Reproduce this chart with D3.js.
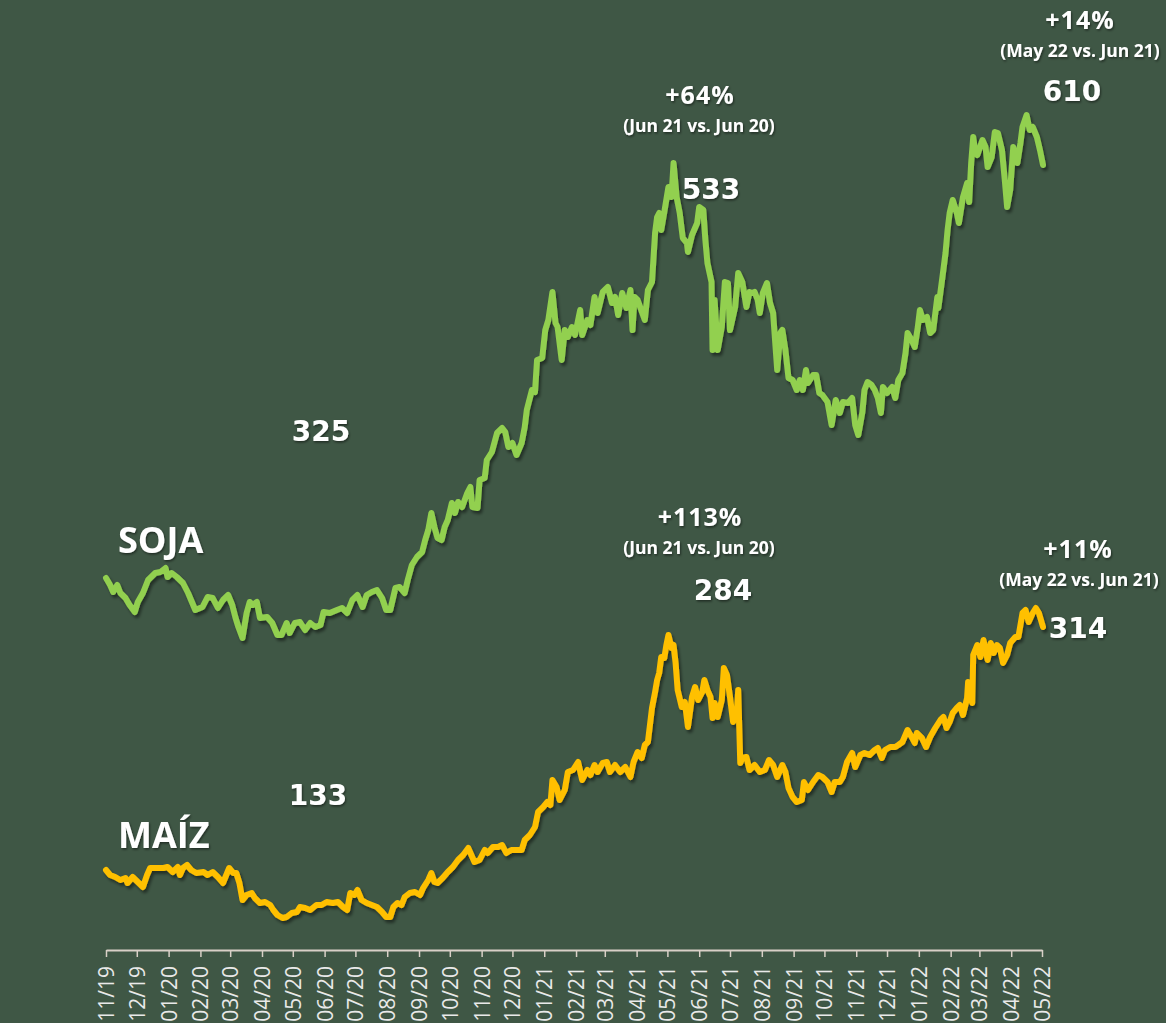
<!DOCTYPE html>
<html>
<head>
<meta charset="utf-8">
<script src="https://cdn.jsdelivr.net/npm/d3@7"></script>
<style>
  html, body { margin: 0; padding: 0; background: #3f5745; overflow: hidden; }
  svg { display: block; }
  .axis path, .axis line { stroke: #d9d0c7; }
  .axis text { fill: #e9e9e9; font-family: 'Open Sans', sans-serif; font-size: 21px; }
  .lbl { fill: #fff; font-weight: bold; text-anchor: middle; }
</style>
</head>
<body>
<div id="chart"></div>
<script>
// daily closes (index units)
const soja = [
  ['2019-11-01', 372], ['2019-11-05', 365], ['2019-11-08', 358], ['2019-11-12', 365], ['2019-11-15', 357],
  ['2019-11-20', 352], ['2019-11-24', 345], ['2019-11-29', 338], ['2019-12-02', 348], ['2019-12-07', 357],
  ['2019-12-12', 370], ['2019-12-19', 377], ['2019-12-24', 378], ['2019-12-29', 382], ['2019-12-31', 373],
  ['2020-01-04', 377], ['2020-01-09', 373], ['2020-01-15', 367], ['2020-01-20', 357], ['2020-01-27', 340],
  ['2020-02-03', 343], ['2020-02-08', 353], ['2020-02-13', 352], ['2020-02-18', 342], ['2020-02-23', 350],
  ['2020-02-28', 355], ['2020-03-03', 345], ['2020-03-06', 333], ['2020-03-09', 323], ['2020-03-13', 312],
  ['2020-03-17', 337], ['2020-03-20', 348], ['2020-03-23', 345], ['2020-03-27', 348], ['2020-03-30', 332],
  ['2020-04-06', 333], ['2020-04-11', 327], ['2020-04-16', 315], ['2020-04-20', 315], ['2020-04-25', 327],
  ['2020-04-28', 317], ['2020-05-03', 327], ['2020-05-08', 328], ['2020-05-13', 320], ['2020-05-18', 327],
  ['2020-05-23', 323], ['2020-05-28', 325], ['2020-05-31', 338], ['2020-06-06', 337], ['2020-06-13', 340],
  ['2020-06-18', 342], ['2020-06-23', 337], ['2020-06-28', 350], ['2020-07-03', 355], ['2020-07-08', 343],
  ['2020-07-12', 355], ['2020-07-17', 358], ['2020-07-22', 360], ['2020-07-27', 352], ['2020-07-31', 340],
  ['2020-08-04', 340], ['2020-08-09', 362], ['2020-08-13', 363], ['2020-08-18', 357], ['2020-08-21', 370],
  ['2020-08-25', 385], ['2020-08-30', 393], ['2020-09-04', 398], ['2020-09-07', 410], ['2020-09-10', 420],
  ['2020-09-13', 437], ['2020-09-16', 423], ['2020-09-19', 412], ['2020-09-23', 410], ['2020-09-26', 423],
  ['2020-09-29', 430], ['2020-10-03', 447], ['2020-10-06', 437], ['2020-10-09', 448], ['2020-10-13', 443],
  ['2020-10-18', 457], ['2020-10-21', 463], ['2020-10-23', 443], ['2020-10-28', 442], ['2020-10-30', 470],
  ['2020-11-04', 472], ['2020-11-06', 490], ['2020-11-11', 498], ['2020-11-16', 517], ['2020-11-21', 522],
  ['2020-11-24', 518], ['2020-11-27', 503], ['2020-12-01', 507], ['2020-12-05', 495], ['2020-12-10', 507],
  ['2020-12-13', 523], ['2020-12-15', 540], ['2020-12-20', 560], ['2020-12-23', 558], ['2020-12-25', 590],
  ['2020-12-30', 592], ['2021-01-02', 620], ['2021-01-05', 630], ['2021-01-09', 658], ['2021-01-12', 627],
  ['2021-01-14', 623], ['2021-01-18', 590], ['2021-01-21', 620], ['2021-01-24', 613], ['2021-01-28', 623],
  ['2021-01-31', 615], ['2021-02-05', 640], ['2021-02-07', 615], ['2021-02-12', 630], ['2021-02-15', 625],
  ['2021-02-19', 653], ['2021-02-22', 637], ['2021-02-27', 658], ['2021-03-04', 663], ['2021-03-08', 647],
  ['2021-03-11', 653], ['2021-03-14', 635], ['2021-03-18', 657], ['2021-03-22', 642], ['2021-03-26', 660],
  ['2021-03-28', 620], ['2021-03-30', 653], ['2021-04-02', 650], ['2021-04-09', 630], ['2021-04-12', 660],
  ['2021-04-16', 668], ['2021-04-19', 717], ['2021-04-21', 733], ['2021-04-23', 737], ['2021-04-25', 720],
  ['2021-04-28', 738], ['2021-05-02', 763], ['2021-05-05', 753], ['2021-05-07', 787], ['2021-05-10', 753],
  ['2021-05-13', 737], ['2021-05-16', 712], ['2021-05-20', 707], ['2021-05-21', 698], ['2021-05-25', 715],
  ['2021-05-30', 727], ['2021-06-01', 743], ['2021-06-05', 740], ['2021-06-07', 710], ['2021-06-09', 687],
  ['2021-06-13', 668], ['2021-06-14', 600], ['2021-06-16', 650], ['2021-06-19', 600], ['2021-06-23', 623],
  ['2021-06-26', 668], ['2021-06-29', 667], ['2021-07-01', 620], ['2021-07-06', 643], ['2021-07-09', 677],
  ['2021-07-13', 668], ['2021-07-17', 643], ['2021-07-20', 658], ['2021-07-23', 657], ['2021-07-25', 658],
  ['2021-07-28', 650], ['2021-07-30', 637], ['2021-08-02', 657], ['2021-08-06', 667], ['2021-08-09', 647],
  ['2021-08-12', 637], ['2021-08-16', 580], ['2021-08-19', 617], ['2021-08-21', 620], ['2021-08-24', 600],
  ['2021-08-27', 572], ['2021-08-31', 570], ['2021-09-04', 560], ['2021-09-07', 570], ['2021-09-10', 560],
  ['2021-09-13', 580], ['2021-09-15', 567], ['2021-09-20', 575], ['2021-09-23', 575], ['2021-09-26', 557],
  ['2021-09-29', 555], ['2021-10-04', 548], ['2021-10-08', 525], ['2021-10-12', 550], ['2021-10-16', 537],
  ['2021-10-19', 548], ['2021-10-24', 547], ['2021-10-28', 552], ['2021-10-31', 525], ['2021-11-03', 515],
  ['2021-11-07', 538], ['2021-11-09', 560], ['2021-11-12', 568], ['2021-11-16', 565], ['2021-11-19', 560],
  ['2021-11-22', 552], ['2021-11-25', 537], ['2021-11-27', 563], ['2021-12-01', 557], ['2021-12-06', 563],
  ['2021-12-09', 552], ['2021-12-12', 570], ['2021-12-16', 577], ['2021-12-19', 597], ['2021-12-21', 617],
  ['2021-12-25', 610], ['2021-12-28', 603], ['2021-12-31', 623], ['2022-01-02', 640], ['2022-01-05', 630],
  ['2022-01-09', 633], ['2022-01-12', 617], ['2022-01-15', 620], ['2022-01-19', 653], ['2022-01-20', 642],
  ['2022-01-24', 673], ['2022-01-27', 697], ['2022-01-29', 720], ['2022-01-31', 737], ['2022-02-03', 750],
  ['2022-02-07', 737], ['2022-02-09', 727], ['2022-02-13', 753], ['2022-02-17', 767], ['2022-02-19', 748],
  ['2022-02-21', 787], ['2022-02-23', 813], ['2022-02-25', 797], ['2022-02-27', 795], ['2022-03-04', 810],
  ['2022-03-07', 803], ['2022-03-09', 783], ['2022-03-13', 793], ['2022-03-16', 818], ['2022-03-19', 817],
  ['2022-03-23', 800], ['2022-03-26', 767], ['2022-03-28', 743], ['2022-03-31', 760], ['2022-04-03', 803],
  ['2022-04-07', 787], ['2022-04-10', 807], ['2022-04-12', 823], ['2022-04-16', 835], ['2022-04-19', 820],
  ['2022-04-22', 823], ['2022-04-26', 813], ['2022-04-29', 800], ['2022-05-02', 785]
];

const maiz = [
  ['2019-11-01', 80], ['2019-11-05', 75], ['2019-11-10', 73], ['2019-11-15', 70], ['2019-11-20', 72],
  ['2019-11-22', 67], ['2019-11-27', 73], ['2019-12-02', 68], ['2019-12-07', 63], ['2019-12-11', 75],
  ['2019-12-14', 82], ['2019-12-21', 82], ['2019-12-27', 82], ['2019-12-31', 83], ['2020-01-05', 78],
  ['2020-01-10', 83], ['2020-01-12', 75], ['2020-01-15', 82], ['2020-01-19', 85], ['2020-01-23', 80],
  ['2020-01-28', 77], ['2020-02-04', 78], ['2020-02-08', 75], ['2020-02-13', 78], ['2020-02-18', 73],
  ['2020-02-23', 67], ['2020-02-27', 77], ['2020-02-29', 82], ['2020-03-04', 77], ['2020-03-07', 77],
  ['2020-03-10', 67], ['2020-03-13', 50], ['2020-03-17', 55], ['2020-03-22', 57], ['2020-03-25', 52],
  ['2020-03-30', 47], ['2020-04-04', 48], ['2020-04-09', 45], ['2020-04-12', 40], ['2020-04-16', 35],
  ['2020-04-21', 32], ['2020-04-25', 33], ['2020-04-30', 37], ['2020-05-05', 38], ['2020-05-08', 43],
  ['2020-05-13', 42], ['2020-05-18', 40], ['2020-05-24', 45], ['2020-05-29', 45], ['2020-06-03', 48],
  ['2020-06-09', 47], ['2020-06-14', 48], ['2020-06-19', 43], ['2020-06-23', 40], ['2020-06-26', 57],
  ['2020-06-30', 55], ['2020-07-03', 60], ['2020-07-07', 50], ['2020-07-12', 47], ['2020-07-17', 45],
  ['2020-07-22', 43], ['2020-07-27', 38], ['2020-07-31', 33], ['2020-08-04', 33], ['2020-08-07', 43],
  ['2020-08-11', 47], ['2020-08-15', 45], ['2020-08-18', 53], ['2020-08-23', 57], ['2020-08-28', 58],
  ['2020-09-02', 55], ['2020-09-05', 62], ['2020-09-10', 70], ['2020-09-13', 77], ['2020-09-16', 68],
  ['2020-09-19', 67], ['2020-09-24', 72], ['2020-09-29', 78], ['2020-10-04', 83], ['2020-10-09', 90],
  ['2020-10-14', 95], ['2020-10-19', 102], ['2020-10-22', 95], ['2020-10-25', 88], ['2020-10-30', 90],
  ['2020-11-04', 100], ['2020-11-07', 97], ['2020-11-12', 103], ['2020-11-17', 103], ['2020-11-21', 105],
  ['2020-11-25', 97], ['2020-11-30', 100], ['2020-12-05', 100], ['2020-12-10', 100], ['2020-12-13', 110],
  ['2020-12-18', 115], ['2020-12-23', 123], ['2020-12-26', 138], ['2020-12-31', 143], ['2021-01-04', 148],
  ['2021-01-07', 145], ['2021-01-09', 170], ['2021-01-13', 163], ['2021-01-16', 150], ['2021-01-21', 160],
  ['2021-01-24', 178], ['2021-01-29', 180], ['2021-02-03', 188], ['2021-02-07', 170], ['2021-02-12', 180],
  ['2021-02-15', 175], ['2021-02-19', 185], ['2021-02-22', 178], ['2021-02-27', 187], ['2021-03-03', 188],
  ['2021-03-06', 178], ['2021-03-11', 185], ['2021-03-16', 178], ['2021-03-21', 183], ['2021-03-26', 173],
  ['2021-03-29', 188], ['2021-04-02', 198], ['2021-04-06', 192], ['2021-04-09', 205], ['2021-04-12', 208],
  ['2021-04-16', 242], ['2021-04-19', 258], ['2021-04-21', 270], ['2021-04-23', 277], ['2021-04-25', 293],
  ['2021-04-28', 292], ['2021-04-30', 305], ['2021-05-02', 315], ['2021-05-05', 302], ['2021-05-07', 305],
  ['2021-05-09', 287], ['2021-05-11', 260], ['2021-05-15', 243], ['2021-05-18', 248], ['2021-05-21', 223],
  ['2021-05-25', 253], ['2021-05-28', 263], ['2021-05-31', 250], ['2021-06-04', 258], ['2021-06-06', 270],
  ['2021-06-09', 260], ['2021-06-12', 253], ['2021-06-14', 232], ['2021-06-16', 247], ['2021-06-19', 233],
  ['2021-06-23', 250], ['2021-06-25', 282], ['2021-06-28', 275], ['2021-07-01', 253], ['2021-07-04', 228],
  ['2021-07-08', 243], ['2021-07-09', 260], ['2021-07-11', 187], ['2021-07-13', 192], ['2021-07-17', 193],
  ['2021-07-20', 180], ['2021-07-25', 185], ['2021-07-30', 178], ['2021-08-04', 180], ['2021-08-08', 190],
  ['2021-08-12', 185], ['2021-08-16', 173], ['2021-08-21', 185], ['2021-08-24', 178], ['2021-08-27', 162],
  ['2021-08-31', 153], ['2021-09-04', 148], ['2021-09-09', 150], ['2021-09-11', 168], ['2021-09-15', 160],
  ['2021-09-20', 168], ['2021-09-25', 175], ['2021-09-29', 173], ['2021-10-04', 168], ['2021-10-08', 158],
  ['2021-10-11', 168], ['2021-10-16', 168], ['2021-10-19', 173], ['2021-10-23', 188], ['2021-10-28', 197],
  ['2021-10-31', 183], ['2021-11-05', 195], ['2021-11-09', 197], ['2021-11-14', 195], ['2021-11-19', 200],
  ['2021-11-22', 202], ['2021-11-26', 192], ['2021-11-29', 200], ['2021-12-04', 203], ['2021-12-09', 203],
  ['2021-12-12', 205], ['2021-12-16', 208], ['2021-12-21', 220], ['2021-12-25', 213], ['2021-12-28', 207],
  ['2021-12-30', 217], ['2022-01-04', 212], ['2022-01-08', 203], ['2022-01-12', 213], ['2022-01-17', 222],
  ['2022-01-22', 230], ['2022-01-25', 233], ['2022-01-28', 222], ['2022-01-31', 228], ['2022-02-03', 237],
  ['2022-02-07', 242], ['2022-02-10', 245], ['2022-02-13', 235], ['2022-02-17', 252], ['2022-02-18', 268],
  ['2022-02-22', 247], ['2022-02-23', 295], ['2022-02-27', 305], ['2022-03-02', 293], ['2022-03-05', 310],
  ['2022-03-09', 290], ['2022-03-12', 307], ['2022-03-15', 297], ['2022-03-18', 305], ['2022-03-21', 302],
  ['2022-03-24', 287], ['2022-03-28', 295], ['2022-03-31', 307], ['2022-04-05', 313], ['2022-04-08', 313],
  ['2022-04-12', 337], ['2022-04-15', 340], ['2022-04-18', 328], ['2022-04-22', 337], ['2022-04-25', 342],
  ['2022-04-28', 337], ['2022-05-02', 323]
];

const axisStart = '2019-11-01';
const axisEnd = '2022-05-01';
const seriesNames = ['SOJA', 'MAÍZ'];
const sojaLabels = ['325', '533', '610'];
const maizLabels = ['133', '284', '314'];
const changeLabels = ['+64%', '+14%', '+113%', '+11%'];
const periodLabels = ['(Jun 21 vs. Jun 20)', '(May 22 vs. Jun 21)'];

const W = 1166, H = 1023;
const margin = {top: 0, left: 106, right: 124, bottom: 73};
const width = W - margin.left - margin.right;
const height = H - margin.top - margin.bottom;

const parseDate = d3.timeParse('%Y-%m-%d');
const toPoints = rows => rows.map(([d, v]) => ({date: parseDate(d), value: v}));
const sojaPts = toPoints(soja);
const maizPts = toPoints(maiz);

const svg = d3.select('#chart').append('svg')
  .attr('width', W)
  .attr('height', H);

svg.append('rect').attr('width', W).attr('height', H).attr('fill', '#3f5745');

// soft shadow for lines and text
const defs = svg.append('defs');
defs.append('filter').attr('id', 'shadow')
  .attr('x', '-10%').attr('y', '-10%').attr('width', '120%').attr('height', '120%')
  .append('feDropShadow')
  .attr('dx', 2).attr('dy', 3).attr('stdDeviation', 1.6)
  .attr('flood-color', '#000').attr('flood-opacity', 0.45);
defs.append('filter').attr('id', 'tshadow')
  .append('feDropShadow')
  .attr('dx', 1).attr('dy', 1.5).attr('stdDeviation', 1)
  .attr('flood-color', '#000').attr('flood-opacity', 0.5);

const g = svg.append('g').attr('transform', 'translate(' + margin.left + ',' + margin.top + ')');

const x = d3.scaleTime()
  .domain([parseDate(axisStart), parseDate(axisEnd)])
  .range([0, width]);

const y = d3.scaleLinear()
  .domain([0, 950])
  .range([height, 0]);

// x axis, one tick per month
const xAxis = g.append('g')
  .attr('class', 'axis')
  .attr('transform', 'translate(0,' + height + ')')
  .call(d3.axisBottom(x)
    .tickValues(d3.timeMonth.range(parseDate(axisStart), d3.timeDay.offset(parseDate(axisEnd), 1)))
    .tickFormat(d3.timeFormat('%m/%y'))
    .tickSize(7)
    .tickSizeOuter(0));
xAxis.select('.domain').attr('stroke-width', 2);
xAxis.selectAll('.tick line').attr('stroke-width', 1.5);
xAxis.selectAll('.tick text')
  .attr('transform', 'rotate(-90)')
  .attr('x', -16)
  .attr('y', 0)
  .attr('dy', '0.36em')
  .style('text-anchor', 'end');

const line = d3.line()
  .x(d => x(d.date))
  .y(d => y(d.value));

g.append('path').datum(sojaPts)
  .attr('d', line)
  .attr('fill', 'none')
  .attr('stroke', '#92d050')
  .attr('stroke-width', 6)
  .attr('stroke-linejoin', 'round')
  .attr('stroke-linecap', 'round')
  .attr('filter', 'url(#shadow)');

g.append('path').datum(maizPts)
  .attr('d', line)
  .attr('fill', 'none')
  .attr('stroke', '#ffc000')
  .attr('stroke-width', 6)
  .attr('stroke-linejoin', 'round')
  .attr('stroke-linecap', 'round')
  .attr('filter', 'url(#shadow)');

// text annotations
const txt = svg.append('g').attr('filter', 'url(#tshadow)');

const addText = (t, px, py, size, family, spacing, anchor) => {
  txt.append('text')
    .attr('class', 'lbl')
    .attr('x', px).attr('y', py)
    .style('font-size', size + 'px')
    .style('font-family', family)
    .style('letter-spacing', (spacing || 0) + 'px')
    .style('text-anchor', anchor || 'middle')
    .text(t);
};

const sans = "'Open Sans', sans-serif";
const wide = "'DejaVu Sans', sans-serif";

addText(seriesNames[0], 118, 553, 36, sans, 0, 'start');
addText(seriesNames[1], 118, 848, 36, sans, 0, 'start');

addText(sojaLabels[0], 321, 441, 28, wide);
addText(sojaLabels[1], 711, 199, 28, wide);
addText(sojaLabels[2], 1072, 101, 28, wide);
addText(maizLabels[0], 318, 805, 28, wide);
addText(maizLabels[1], 723, 600, 28, wide);
addText(maizLabels[2], 1078, 638, 28, wide);

addText(changeLabels[0], 700, 104, 25, sans, 1);
addText(periodLabels[0], 699, 132, 17.5, sans);
addText(changeLabels[1], 1080, 29, 25, sans, 1);
addText(periodLabels[1], 1080, 57, 17.5, sans);
addText(changeLabels[2], 700, 526, 25, sans, 1);
addText(periodLabels[0], 699, 554, 17.5, sans);
addText(changeLabels[3], 1078, 558, 25, sans, 1);
addText(periodLabels[1], 1079, 586, 17.5, sans);
</script>
</body>
</html>
